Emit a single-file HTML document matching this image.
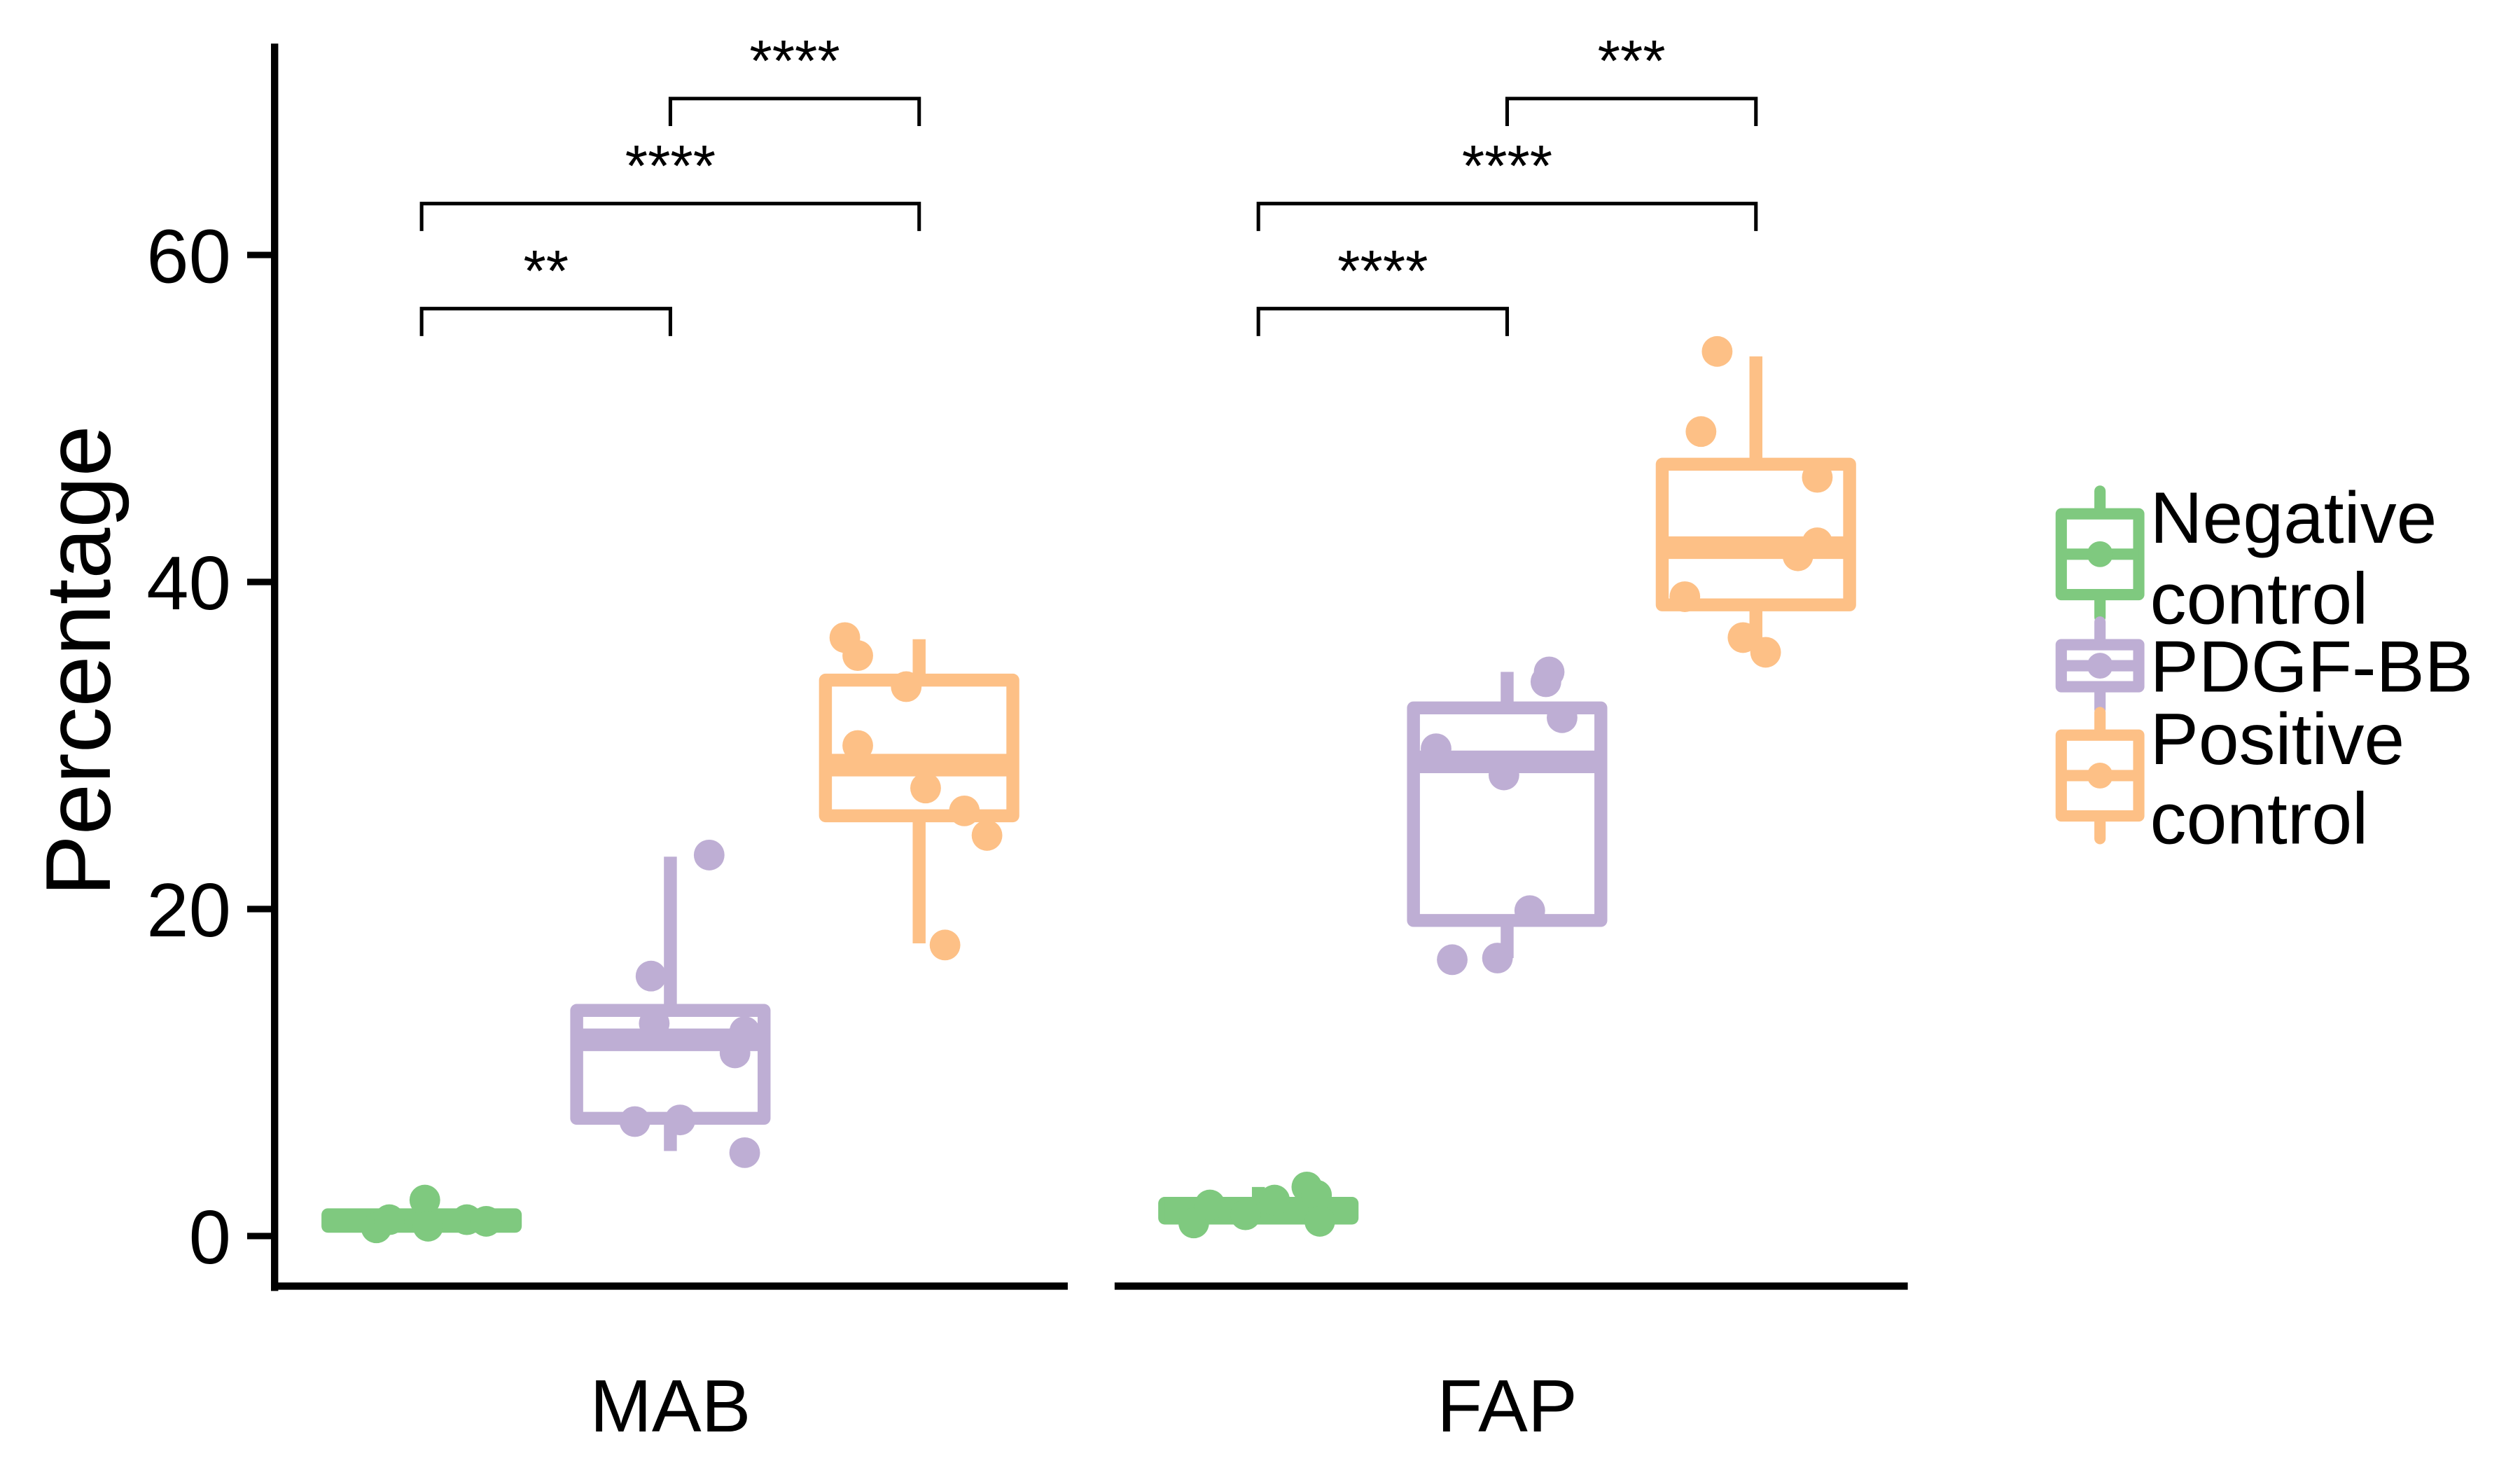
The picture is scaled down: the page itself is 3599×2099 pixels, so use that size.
<!DOCTYPE html>
<html><head><meta charset="utf-8"><style>
html,body{margin:0;padding:0;background:#fff;}
svg{display:block;}
text{font-family:"Liberation Sans",Arial,sans-serif;}
</style></head><body>
<svg id="chart" width="3599" height="2099" viewBox="0 0 1560 909.8" preserveAspectRatio="none" xmlns="http://www.w3.org/2000/svg">
<g id="plot"></g>
</svg>
<script>
const panels = ["MAB","FAP"];
const groups = ["Negative control","PDGF-BB","Positive control"];
const colors = ["#7FC97F","#BEAED4","#FDC086"];
// [whiskerLow, q1, median, q3, whiskerHigh] per panel per group
const statsMAB = [[0.4,0.6,0.9,1.3,2.2],[5.2,7.2,12.0,13.8,23.2],[17.9,25.7,28.8,34.0,36.5]];
const statsFAP = [[0.8,1.1,1.6,2.0,3.0],[17.0,19.3,29.0,32.3,34.5],[35.8,38.6,42.1,47.2,53.8]];
const pointsMAB = [[0.5,1.0,2.2,0.6,1.0,0.9],[23.3,15.9,13.0,12.5,11.2,7.0,7.1,5.1],[36.6,35.5,33.6,30.0,27.4,26.0,24.5,17.8]];
const pointsFAP = [[0.8,1.9,1.3,2.2,3.0,2.5,0.9],[34.5,33.9,31.7,29.8,28.2,19.9,16.9,17.0],[54.1,49.2,46.4,42.4,41.6,39.1,36.6,35.7]];
const jitterMAB = [[-28,-20,2,4,28,40],[24,-12,-10,46,40,-22,6,46],[-46,-38,-8,-38,4,28,42,16]];
const jitterFAP = [[-40,-30,-8,10,30,36,38],[26,24,34,-44,-2,14,-34,-6],[-24,-34,38,38,26,-44,-8,6]];
const yTicks = [0,20,40,60];
const sigMAB = ["**","****","****"];
const sigFAP = ["****","****","***"];

const g = document.getElementById('plot');
const NS = "http://www.w3.org/2000/svg";
function y(v){ return 765 - v*10.12; }
const panelX0 = [170, 690];
function gx(p,i){ return [261,415,569][i] + (p===0?0:518); }
function mk(tag, attrs, parent){
  const e = document.createElementNS(NS, tag);
  for (const k in attrs) e.setAttribute(k, attrs[k]);
  (parent||g).appendChild(e); return e;
}
let ax = mk('line',{x1:170,y1:27,x2:170,y2:799,stroke:'#000','stroke-width':4.5});


yTicks.forEach(t=>{
  const tk = mk('line',{x1:153,y1:y(t),x2:170,y2:y(t),stroke:'#000','stroke-width':4});
  
  
  const tl = mk('text',{x:143,y:y(t)+17,'text-anchor':'end','font-size':47});
  tl.textContent = t;
  
  
});
const yt = mk('text',{x:0,y:0,'text-anchor':'middle','font-size':57,transform:'translate(68,409) rotate(-90)'});
yt.textContent = 'Percentage';



panels.forEach((pn,p)=>{
  const stats = p===0?statsMAB:statsFAP;
  const pts = p===0?pointsMAB:pointsFAP;
  const jit = p===0?jitterMAB:jitterFAP;
  const sig = p===0?sigMAB:sigFAP;
  const xl = mk('line',{x1:panelX0[p],y1:796,x2:panelX0[p]+491,y2:796,stroke:'#000','stroke-width':4.5});
  
  
  const lab = mk('text',{x:gx(p,1),y:886,'text-anchor':'middle','font-size':46});
  lab.textContent = pn;
  
  
  groups.forEach((gn,i)=>{
    const s = stats[i], cx = gx(p,i), c = colors[i], hw = 58;
    const bg = mk('g',{});
    
    
    mk('line',{x1:cx,y1:y(s[0]),x2:cx,y2:y(s[1]),stroke:c,'stroke-width':8},bg);
    mk('line',{x1:cx,y1:y(s[3]),x2:cx,y2:y(s[4]),stroke:c,'stroke-width':8},bg);
    mk('rect',{x:cx-hw,y:y(s[3]),width:hw*2,height:Math.max(1,y(s[1])-y(s[3])),fill:'none',stroke:c,'stroke-width':8,'stroke-linejoin':'round'},bg);
    mk('line',{x1:cx-hw,y1:y(s[2]),x2:cx+hw,y2:y(s[2]),stroke:c,'stroke-width':14},bg);
    pts[i].forEach((v,k)=>{
      const d = mk('circle',{cx:cx+jit[i][k],cy:y(v),r:9.5,fill:c});
      
      
    });
  });
  const br = [[0,1,191],[0,2,126],[1,2,61]];
  br.forEach((b,k)=>{
    const x1=gx(p,b[0]), x2=gx(p,b[1]), by=b[2];
    const pl = mk('polyline',{points:`${x1},${by+17} ${x1},${by} ${x2},${by} ${x2},${by+17}`,fill:'none',stroke:'#000','stroke-width':2.2});
    
    
    const st = mk('text',{x:(x1+x2)/2,y:by-11,'text-anchor':'middle','font-size':36});
    st.textContent = sig[k];
    
    
  });
});
const legY = [[343,320,370],[412,412],[480,457,506]];
groups.forEach((gn,i)=>{
  const c = colors[i], cy = legY[i][0];
  const lg = mk('g',{});
  
  
  const h = i===1?26:50;
  mk('line',{x1:1300,y1:cy-h/2-14,x2:1300,y2:cy+h/2+14,stroke:c,'stroke-width':7,'stroke-linecap':'round'},lg);
  mk('rect',{x:1276,y:cy-h/2,width:48,height:h,fill:'#fff',stroke:c,'stroke-width':7,'stroke-linejoin':'round'},lg);
  mk('line',{x1:1276,y1:cy,x2:1324,y2:cy,stroke:c,'stroke-width':7},lg);
  mk('circle',{cx:1300,cy:cy,r:8,fill:c},lg);
  const lines = gn==="PDGF-BB"?["PDGF-BB"]:gn.split(' ');
  lines.forEach((t,k)=>{
    const tx = mk('text',{x:1331,y:legY[i][k+1]+16,'font-size':45},lg);
    tx.textContent = t;
  });
});
</script>
</body></html>
